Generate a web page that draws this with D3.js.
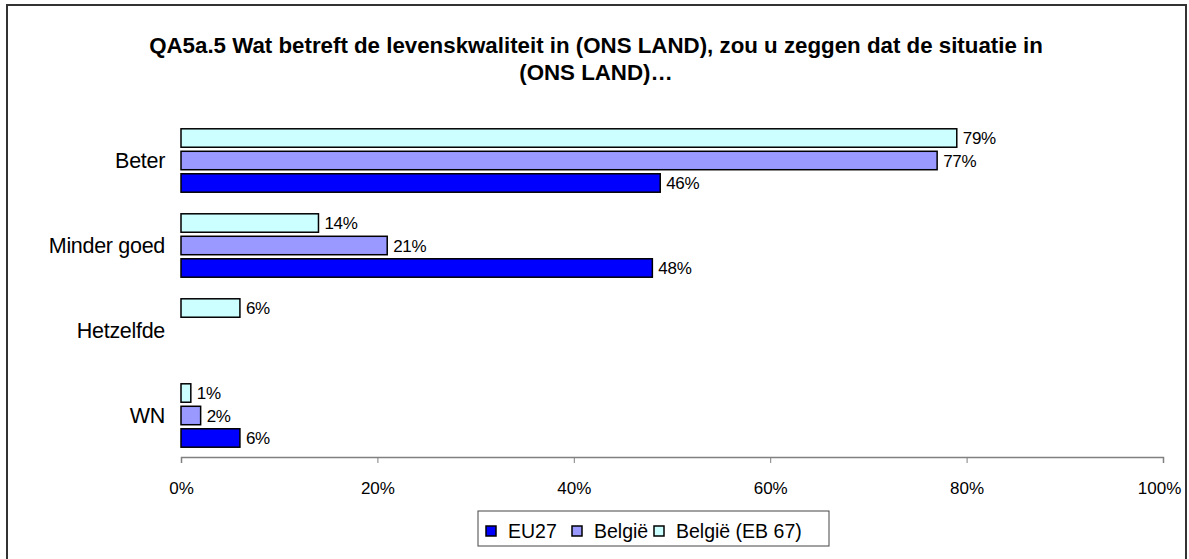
<!DOCTYPE html>
<html>
<head>
<meta charset="utf-8">
<script src="https://cdn.jsdelivr.net/npm/d3@7"></script>
<style>
  body { margin: 0; background: #fff; }
  svg { display: block; font-family: "Liberation Sans", Arial, sans-serif; }
</style>
</head>
<body>
<svg width="1189" height="559"></svg>
<script>
const categories = ["Beter", "Minder goed", "Hetzelfde", "WN"];
const seriesNames = ["EU27", "België", "België (EB 67)"];
const eu27 = [48.8, 48, null, 6];
const belgie = [77, 21, null, 2];
const belgieEB67 = [79, 14, 6, 1];
const eu27Labels = ["46%", "48%", null, "6%"];
const belgieLabels = ["77%", "21%", null, "2%"];
const belgieEB67Labels = ["79%", "14%", "6%", "1%"];
const xTicks = [0, 20, 40, 60, 80, 100];
const title = ["QA5a.5 Wat betreft de levenskwaliteit in (ONS LAND), zou u zeggen dat de situatie in", "(ONS LAND)…"];

const colors = {"EU27": "#0000ff", "België": "#9999ff", "België (EB 67)": "#ccffff"};
const valuesBySeries = {"EU27": eu27, "België": belgie, "België (EB 67)": belgieEB67};
const labelsBySeries = {"EU27": eu27Labels, "België": belgieLabels, "België (EB 67)": belgieEB67Labels};

const svg = d3.select("svg");

// outer frame
svg.append("rect")
    .attr("x", 7).attr("y", 5)
    .attr("width", 1179).attr("height", 560)
    .attr("fill", "none")
    .attr("stroke", "#333")
    .attr("stroke-width", 2);

// title
svg.append("g").selectAll("text")
  .data(title)
  .join("text")
    .attr("x", 596)
    .attr("y", (d, i) => 53 + i * 27)
    .attr("text-anchor", "middle")
    .attr("font-weight", "bold")
    .attr("font-size", 22.3)
    .attr("fill", "#000")
    .text(d => d);

const x = d3.scaleLinear()
    .domain([0, 100])
    .range([181, 1163]);

const y0 = d3.scaleBand()
    .domain(categories)
    .range([118, 458]);

// drawn top-to-bottom: EB 67, België, EU27
const y1 = d3.scaleBand()
    .domain(["België (EB 67)", "België", "EU27"])
    .range([0, y0.bandwidth()])
    .paddingInner(0.18)
    .paddingOuter(0.48);

const rows = categories.flatMap((c, i) => y1.domain().map(s => ({
  category: c, series: s, value: valuesBySeries[s][i], label: labelsBySeries[s][i]
}))).filter(d => d.value != null);

const bars = svg.append("g");
bars.selectAll("rect")
  .data(rows)
  .join("rect")
    .attr("x", x(0))
    .attr("y", d => y0(d.category) + y1(d.series))
    .attr("width", d => x(d.value) - x(0))
    .attr("height", y1.bandwidth())
    .attr("fill", d => colors[d.series])
    .attr("stroke", "#000")
    .attr("stroke-width", 1.5);

bars.selectAll("text")
  .data(rows)
  .join("text")
    .attr("x", d => x(d.value) + 6)
    .attr("y", d => y0(d.category) + y1(d.series) + y1.bandwidth() / 2 + 6)
    .attr("font-size", 17)
    .attr("letter-spacing", -0.3)
    .attr("fill", "#000")
    .text(d => d.label);

// category labels
svg.append("g").selectAll("text")
  .data(categories)
  .join("text")
    .attr("x", 165)
    .attr("y", d => y0(d) + y0.bandwidth() / 2 + 7)
    .attr("text-anchor", "end")
    .attr("font-size", 21.5)
    .attr("letter-spacing", -0.3)
    .attr("fill", "#000")
    .text(d => d);

// x axis
const axis = svg.append("g")
    .attr("transform", "translate(0,457)")
    .call(d3.axisBottom(x).tickValues(xTicks).tickSize(6).tickSizeOuter(6).tickFormat(d => d + "%"));
axis.select(".domain").attr("stroke", "#808080").attr("stroke-width", 1.5);
axis.selectAll(".tick line").attr("stroke", "#808080");
axis.selectAll(".tick text")
    .attr("font-family", "Liberation Sans, Arial, sans-serif")
    .attr("font-size", 17)
    .attr("fill", "#000")
    .attr("y", 37)
    .attr("dy", 0)
    .attr("dx", d => d === 100 ? -4 : 0);

// legend
const legend = svg.append("g");
legend.append("rect")
    .attr("x", 478).attr("y", 511)
    .attr("width", 351).attr("height", 35)
    .attr("fill", "#fff")
    .attr("stroke", "#444")
    .attr("stroke-width", 1);
const legendX = [486, 572, 654];
const item = legend.selectAll("g.item")
  .data(seriesNames)
  .join("g")
    .attr("class", "item")
    .attr("transform", (d, i) => `translate(${legendX[i]},531)`);
item.append("rect")
    .attr("x", 0).attr("y", -5)
    .attr("width", 10).attr("height", 10)
    .attr("fill", d => colors[d])
    .attr("stroke", "#000")
    .attr("stroke-width", 1.5);
item.append("text")
    .attr("x", 22)
    .attr("y", 7)
    .attr("font-size", 19.5)
    .attr("fill", "#000")
    .text(d => d);
</script>
</body>
</html>
